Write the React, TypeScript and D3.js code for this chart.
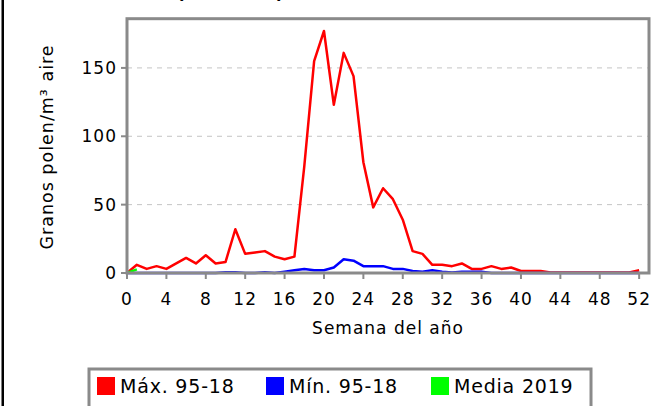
import React from 'react'
import * as d3 from 'd3'

// semanas 0..52
const weeks = d3.range(0, 53)
const maxValues = [0, 6, 3, 5, 3, 7, 11, 7, 13, 7, 8, 32, 14, 15, 16, 12, 10, 12, 78, 155, 177, 123, 161, 144, 81, 48, 62, 54, 39, 16, 14, 6, 6, 5, 7, 3, 3, 5, 3, 4, 1.5, 1.5, 1.5, 0.3, 0.3, 0.3, 0.3, 0.3, 0.3, 0.3, 0.3, 0.3, 2]
const minValues = [0, 0, 0, 0, 0, 0, 0, 0, 0, 0, 0.5, 0.5, 0, 0, 0.5, 0, 1, 2, 3, 2, 2, 4, 10, 9, 5, 5, 5, 3, 3, 1.5, 1, 2, 1, 0.3, 1, 1, 1, 0, 0, 0, 0, 0, 0, 0, 0, 0, 0, 0, 0, 0, 0, 0, 0]
const media2019 = [0, 2.7]
const xTicks = d3.range(0, 53, 4)
const yTicks = [0, 50, 100, 150]
const legendItems = [
  { label: 'Máx. 95-18', color: '#ff0000' },
  { label: 'Mín. 95-18', color: '#0000ff' },
  { label: 'Media 2019', color: '#00ff00' },
]

const W = 663, H = 406
const left = 127, right = 649, top = 18.7, bottom = 273
const font = '"DejaVu Sans", sans-serif'

export default function App() {
  const x = d3.scaleLinear().domain([0, 53]).range([left, right])
  const y = d3.scaleLinear().domain([0, 186]).range([bottom, top])
  const line = d3.line<number>().x((d, i) => x(weeks[i])).y(d => y(d))

  const legendX = [97, 266, 431]

  return (
    <svg width={W} height={H} style={{ position: 'absolute', left: 0, top: 0 }} fontFamily={font}>
      <rect x={0} y={0} width={W} height={H} fill="#fff" />
      {/* borde izquierdo */}
      <rect x={1.5} y={0} width={2.5} height={H} fill="#000" />
      {/* título cortado */}
      <text x={285} y={-1} textAnchor="end" fontSize={18} fontWeight="bold" letterSpacing={1}>Rumex (Acedera)</text>

      {/* rejilla */}
      {yTicks.filter(t => t > 0).map(t => (
        <line key={'g' + t} x1={left} x2={right} y1={y(t)} y2={y(t)} stroke="#c4c4c4" strokeWidth={1} strokeDasharray="5,5" />
      ))}

      {/* series */}
      <path d={line(maxValues) || ''} fill="none" stroke="#ff0000" strokeWidth={2.5} strokeLinejoin="round" />
      <path d={line(minValues) || ''} fill="none" stroke="#0000ff" strokeWidth={2.5} strokeLinejoin="round" />
      <path d={line(media2019) || ''} fill="none" stroke="#00ff00" strokeWidth={2.5} />

      {/* marco */}
      <rect x={left} y={top} width={right - left} height={bottom - top} fill="none" stroke="#8a8a8a" strokeWidth={3} />

      {/* eje x */}
      {xTicks.map(t => (
        <g key={'x' + t}>
          <line x1={x(t)} x2={x(t)} y1={bottom} y2={bottom + 6} stroke="#8a8a8a" strokeWidth={2} />
          <text x={x(t)} y={305} textAnchor="middle" fontSize={17} letterSpacing={1}>{t}</text>
        </g>
      ))}
      <text x={388} y={334} textAnchor="middle" fontSize={17} letterSpacing={1}>Semana del año</text>

      {/* eje y */}
      {yTicks.map(t => (
        <g key={'y' + t}>
          <line x1={left - 6} x2={left} y1={y(t)} y2={y(t)} stroke="#8a8a8a" strokeWidth={2} />
          <text x={117} y={y(t) + 6} textAnchor="end" fontSize={17} letterSpacing={1}>{t}</text>
        </g>
      ))}
      <text transform={`translate(53, 147) rotate(-90)`} textAnchor="middle" fontSize={17.5} letterSpacing={1}>Granos polen/m³ aire</text>

      {/* leyenda */}
      <rect x={89} y={369} width={502} height={45} fill="#fff" stroke="#8a8a8a" strokeWidth={3} />
      {legendItems.map((d, i) => (
        <g key={d.label}>
          <rect x={legendX[i]} y={377} width={18} height={18} fill={d.color} />
          <text x={legendX[i] + 23} y={393} fontSize={19} letterSpacing={0.8}>{d.label}</text>
        </g>
      ))}
    </svg>
  )
}
